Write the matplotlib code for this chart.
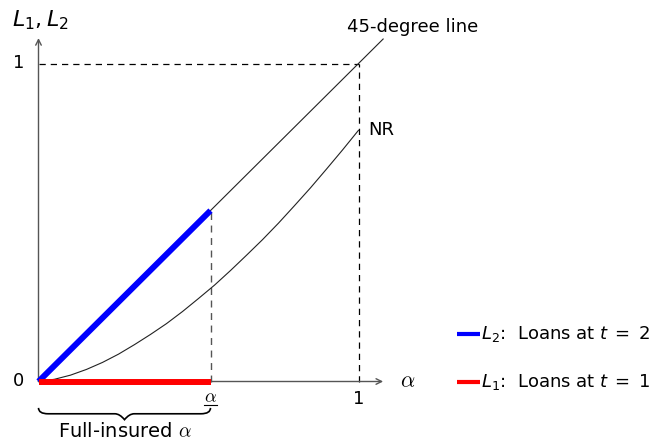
import matplotlib
matplotlib.use("Agg")
import matplotlib.pyplot as plt
import numpy as np
from matplotlib.path import Path
from matplotlib.patches import PathPatch

plt.rcParams['font.family'] = ['DejaVu Sans']
plt.rcParams['mathtext.fontset'] = 'dejavusans'

# data
alpha_bar = 0.5375
nr_x = [0.0, 0.05, 0.1, 0.15, 0.2, 0.25, 0.3, 0.35, 0.4, 0.45, 0.5,
        0.55, 0.6, 0.65, 0.7, 0.75, 0.8, 0.85, 0.9, 0.95, 1.0]
nr_y = [0.0, 0.007, 0.020, 0.038, 0.060, 0.086, 0.116, 0.148, 0.182, 0.220, 0.261,
        0.303, 0.349, 0.397, 0.446, 0.498, 0.553, 0.609, 0.668, 0.728, 0.79]
diag_x = [0.0, 1.077]
diag_y = [0.0, 1.077]
l2_x = [0.0, alpha_bar]
l2_y = [0.0, alpha_bar]
l1_x = [0.0, alpha_bar]
l1_y = [0.0, 0.0]

fig = plt.figure(figsize=(6.64, 4.42), dpi=100)
ax = fig.add_axes([0, 0, 1, 1])
ax.set_xlim(-38.5 / 320, (664 - 38.5) / 320)
ax.set_ylim(-60.5 / 318, (442 - 60.5) / 318)
ax.axis('off')

axis_col = '#555555'
# axes with arrow heads
ax.annotate('', xy=(1.077, 0), xytext=(0, 0),
            arrowprops=dict(arrowstyle='->', color=axis_col, lw=1.0, shrinkA=0, shrinkB=0))
ax.annotate('', xy=(0, 1.08), xytext=(0, 0),
            arrowprops=dict(arrowstyle='->', color=axis_col, lw=1.0, shrinkA=0, shrinkB=0))

# dashed guides
ax.plot([0, 1], [1, 1], color='black', lw=0.9, ls=(0, (5, 4)))
ax.plot([1, 1], [0, 1], color='black', lw=0.9, ls=(0, (5, 4)))
ax.plot([alpha_bar, alpha_bar], [0, alpha_bar], color='#555555', lw=1.0, ls=(0, (5, 4)))

# curves
ax.plot(diag_x, diag_y, color='#222222', lw=0.8)
ax.plot(nr_x, nr_y, color='#222222', lw=0.8)
ax.plot(l2_x, l2_y, color='#0000ff', lw=4.3, solid_capstyle='butt', zorder=5)
ax.plot(l1_x, l1_y, color='#ff0000', lw=4.3, solid_capstyle='butt', zorder=5)

# labels
fs = 13
ax.text(-0.045, 0, '0', ha='right', va='center', fontsize=fs)
ax.text(-0.045, 1, '1', ha='right', va='center', fontsize=fs)
ax.text(1, -0.027, '1', ha='center', va='top', fontsize=fs)
ax.text(alpha_bar, -0.022, r'$\alpha$', ha='center', va='top', fontsize=fs,
        math_fontfamily='cm')
ax.plot([alpha_bar - 0.021, alpha_bar + 0.021], [-0.075, -0.075], color='black', lw=0.8)
ax.text(1.155, 0, r'$\alpha$', ha='center', va='center', fontsize=16, math_fontfamily='cm')
ax.text(0.005, 1.135, r'$L_1, L_2$', ha='center', va='center', fontsize=16)
ax.text(1.17, 1.115, '45-degree line', ha='center', va='center', fontsize=fs)
ax.text(1.03, 0.79, 'NR', ha='left', va='center', fontsize=fs)

# brace under the interval
y_top, y_tip = -0.083, -0.12
ym = (y_top + y_tip) / 2
x0, x1 = 0.0, alpha_bar
xm = (x0 + x1) / 2
r = 0.03
verts = [(x0, y_top), (x0, ym), (x0 + r, ym),
         (xm - r, ym), (xm - r / 2, ym), (xm, y_tip),
         (xm + r / 2, ym), (xm + r, ym),
         (x1 - r, ym), (x1, ym), (x1, y_top)]
codes = [Path.MOVETO, Path.CURVE3, Path.CURVE3,
         Path.LINETO, Path.CURVE3, Path.CURVE3,
         Path.CURVE3, Path.CURVE3,
         Path.LINETO, Path.CURVE3, Path.CURVE3]
ax.add_patch(PathPatch(Path(verts, codes), fill=False, lw=1.2, color='black'))
ax.text(xm, -0.157, r'Full-insured $\alpha$', ha='center', va='center', fontsize=14,
        math_fontfamily='cm')

# legend-like entries
ax.plot([1.307, 1.38], [0.148, 0.148], color='#0000ff', lw=3, solid_capstyle='butt')
ax.text(1.383, 0.148, r'$L_2$:  Loans at $t\;=\;2$', ha='left', va='center', fontsize=fs)
ax.plot([1.307, 1.38], [0.0, 0.0], color='#ff0000', lw=3, solid_capstyle='butt')
ax.text(1.383, 0.0, r'$L_1$:  Loans at $t\;=\;1$', ha='left', va='center', fontsize=fs)

fig.savefig('out.png', dpi=100)
